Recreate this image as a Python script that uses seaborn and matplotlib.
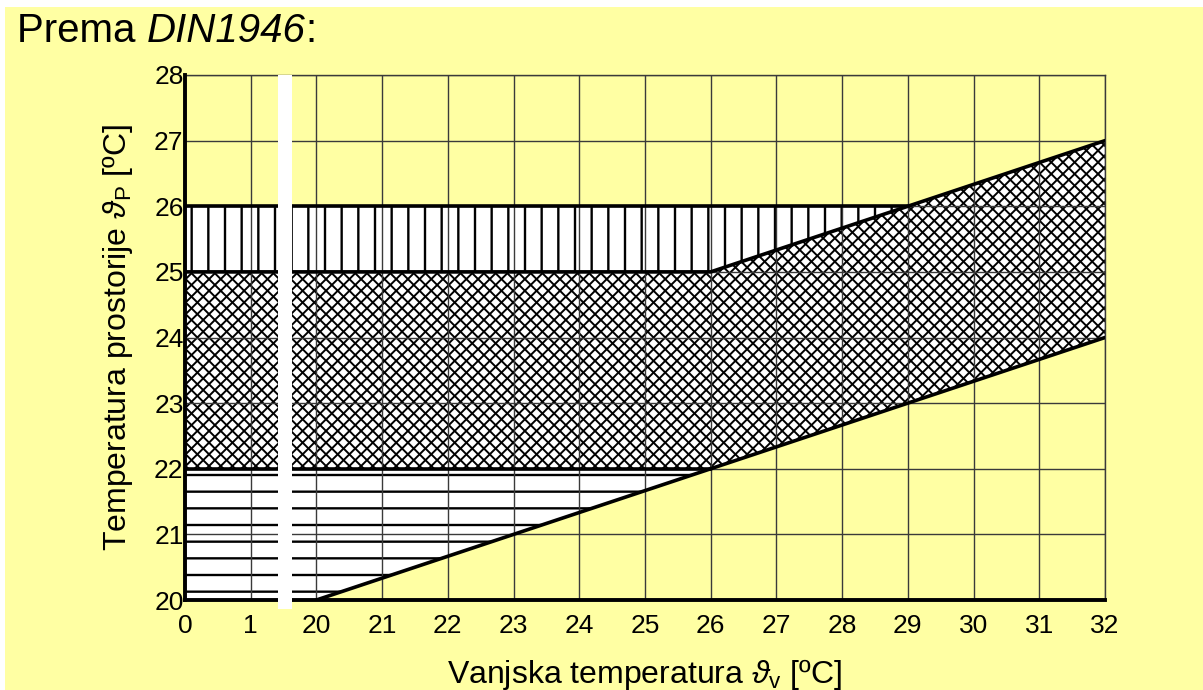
import numpy as np
import matplotlib
matplotlib.use("Agg")
import matplotlib.pyplot as plt
import seaborn as sns
from matplotlib.patches import Rectangle
from matplotlib.collections import LineCollection

# outdoor temperature tick labels (broken axis: 0, 1, then 20..32)
x_labels = [0, 1, 20, 21, 22, 23, 24, 25, 26, 27, 28, 29, 30, 31, 32]
y_ticks = [20, 21, 22, 23, 24, 25, 26, 27, 28]

# boundary points (outdoor temp -> room temp)
t_out = [0, 1, 20, 26, 29, 32]
low_line = [20, 20, 20, 22, 23, 24]      # lower limit (slope from 20 °C)
cross_low = [22, 22, 22, 22, 23, 24]     # bottom of recommended zone
cross_high = [25, 25, 25, 25, 26, 27]    # top of recommended zone
vert_high = [26, 26, 26, 26, 26, 27]     # upper tolerated limit

yellow = "#ffffa3"

sns.set_style("white")
plt.rcParams["font.family"] = ["Liberation Sans", "DejaVu Sans"]
plt.rcParams["mathtext.fontset"] = "custom"
plt.rcParams["mathtext.rm"] = "Liberation Sans"
plt.rcParams["mathtext.it"] = "Liberation Sans:italic"
plt.rcParams["hatch.linewidth"] = 1.7
plt.rcParams["hatch.color"] = "black"
plt.rcParams["text.color"] = "black"
plt.rcParams["axes.labelcolor"] = "black"
plt.rcParams["xtick.color"] = "black"
plt.rcParams["ytick.color"] = "black"

# map label values onto equally spaced positions
def to_pos(v):
    return np.interp(v, x_labels, np.arange(len(x_labels)))

px = to_pos(t_out)

fig = plt.figure(figsize=(12.03, 6.90), dpi=100)
fig.patch.set_facecolor("white")
fig.patches.append(Rectangle((5 / 1203, 0), 1, 1 - 7 / 690, transform=fig.transFigure,
                             facecolor=yellow, edgecolor="none", zorder=-10))
ax = fig.add_axes([185 / 1203, 90 / 690, 920 / 1203, 525 / 690])
ax.set_facecolor(yellow)

# horizontal hatch zone
ax.fill_between(px, low_line, cross_low, facecolor="white", edgecolor="black",
                hatch="-", linewidth=0, zorder=1)
# vertical hatch zone
ax.fill_between(px, cross_high, vert_high, facecolor="white", edgecolor="black",
                hatch="|", linewidth=0, zorder=1)
# cross hatch zone (drawn by hand for a finer mesh)
cross = ax.fill_between(px, cross_low, cross_high, facecolor="white",
                        edgecolor="none", linewidth=0, zorder=1)
step = 0.178
segs = []
for k in np.arange(-12, 30, step):
    segs.append([(k, 20), (k + 8, 28)])
    segs.append([(k, 28), (k + 8, 20)])
lc = LineCollection(segs, colors="black", linewidths=1.4, zorder=1.5)
ax.add_collection(lc)
lc.set_clip_path(cross.get_paths()[0], ax.transData)

# grid on top of the fills
for i in range(len(x_labels)):
    ax.axvline(i, color="#3a3a3a", lw=1.0, zorder=2)
for y in y_ticks:
    ax.axhline(y, color="#3a3a3a", lw=1.0, zorder=2)

# thick boundary lines
lw = 2.6
m = np.array(t_out) >= 20
sns.lineplot(x=px[m], y=np.array(low_line)[m], color="black", lw=lw, ax=ax, zorder=3)
sns.lineplot(x=px[:4], y=cross_low[:4], color="black", lw=lw, ax=ax, zorder=3)
sns.lineplot(x=px, y=cross_high, color="black", lw=lw, ax=ax, zorder=3)
sns.lineplot(x=px[:5], y=vert_high[:5], color="black", lw=lw, ax=ax, zorder=3)

ax.set_xlim(0, len(x_labels) - 1)
ax.set_ylim(20, 28)
ax.set_xticks(np.arange(len(x_labels)))
ax.set_xticklabels([str(v) for v in x_labels])
ax.set_yticks(y_ticks)
ax.set_yticklabels([str(v) for v in y_ticks])
ax.tick_params(axis="x", length=0, pad=10, labelsize=19)
ax.tick_params(axis="y", length=0, pad=1, labelsize=19)

for s in ["left", "bottom"]:
    ax.spines[s].set_linewidth(2.8)
    ax.spines[s].set_color("black")
    ax.spines[s].set_zorder(4)
for s in ["top", "right"]:
    ax.spines[s].set_linewidth(1.0)
    ax.spines[s].set_color("#3a3a3a")

# axis break strip
ax.add_patch(Rectangle((1.52 - 0.105, 19.87), 0.21, 8.13, facecolor="white",
                       edgecolor="none", clip_on=False, zorder=10))

ax.set_xlabel(r"Vanjska temperatura $\vartheta_\mathrm{v}$ [ºC]", fontsize=23, labelpad=14)
ax.set_ylabel(r"Temperatura prostorije $\vartheta_\mathrm{P}$ [ºC]", fontsize=23, labelpad=14)

# title with italic part
renderer = fig.canvas.get_renderer()
ty = 1 - 42 / 690
x0 = 17 / 1203
parts = [("Prema ", "normal"), ("DIN1946", "italic"), (":", "normal")]
for txt, st in parts:
    t = fig.text(x0, ty, txt, fontsize=29, style=st, va="baseline")
    bb = t.get_window_extent(renderer)
    x0 = bb.x1 / fig.bbox.width

fig.savefig("out.png", dpi=100)
